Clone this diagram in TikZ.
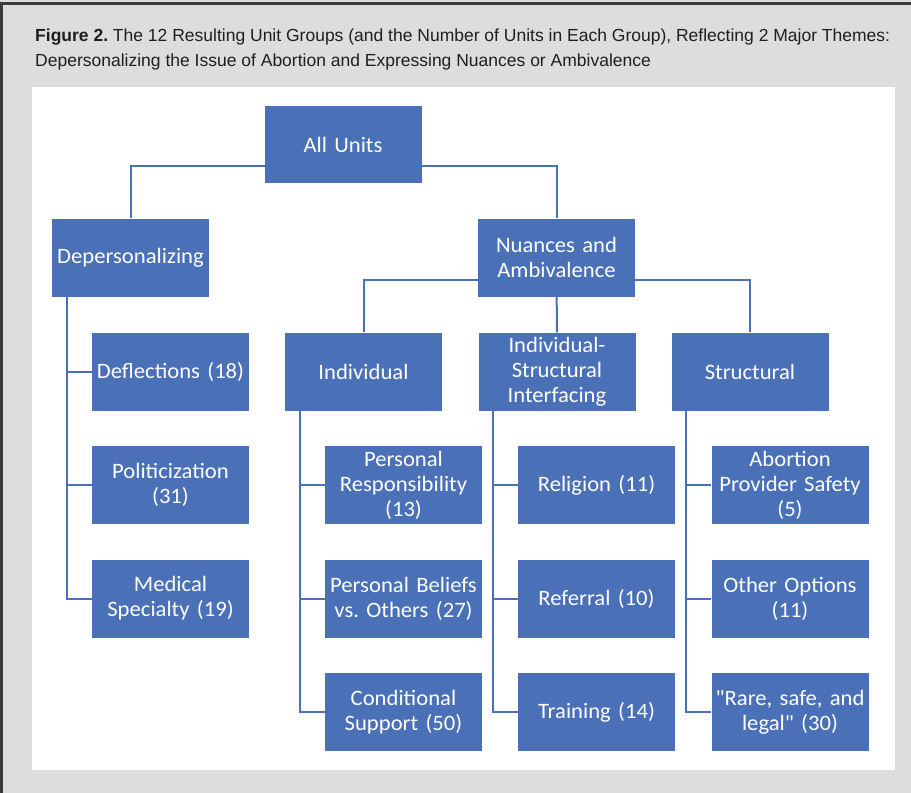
\documentclass[tikz,border=0pt]{standalone}
\usepackage{fontspec}
\setmainfont[FakeStretch=1.03]{Carlito}
\newfontfamily\qfont[FakeStretch=1.03,Ligatures=ResetAll]{Carlito}
\newcommand\sq{{\qfont\char34}}
\newfontfamily\titlefont{Liberation Sans}
\newfontfamily\titlefontb{Liberation Sans Bold}
\definecolor{boxblue}{HTML}{4A71B8}
\definecolor{linkblue}{HTML}{4A71B8}
\definecolor{bggray}{HTML}{DCDDDF}
\definecolor{frame}{HTML}{3A3A3A}
\frenchspacing
\begin{document}
\begin{tikzpicture}[x=1pt,y=-1pt,
  unitbox/.style={fill=boxblue, draw=none, minimum width=157pt, minimum height=78pt, inner sep=2pt,
    text=white, align=center, text width=153pt, font=\fontsize{22}{25}\selectfont},
  link/.style={draw=linkblue, line width=2pt},
  titletext/.style={anchor=base west, inner sep=0pt, text=black!88, font=\titlefont\fontsize{17.5}{22}\selectfont}]
\useasboundingbox (0,0) rectangle (911,793);
\fill[bggray] (0,0) rectangle (911,793);
\draw[frame, line width=3pt] (1.5,793) -- (1.5,3) -- (911,3);
\fill[white] (32,87) rectangle (895,770);
\node[titletext] (t1) at (35,41.5) {{\titlefontb Figure 2.} The 12 Resulting Unit Groups (and the Number of Units in Each Group), Reflecting 2 Major Themes:};
\node[titletext] (t2) at (35,66) {Depersonalizing the Issue of Abortion and Expressing Nuances or Ambivalence};

\node[unitbox, minimum width=156pt, minimum height=77pt] (all) at (343,144.5) {All Units};
\node[unitbox] (dep) at (130.5,257.5) {Depersonalizing};
\node[unitbox] (nua) at (556.5,257.5) {Nuances and\\Ambivalence};

\node[unitbox] (defl) at (170.5,371.5) {Deflections (18)};
\node[unitbox] (pol) at (170.5,485) {Politicization\\(31)};
\node[unitbox] (med) at (170.5,598.5) {Medical\\Specialty (19)};

\node[unitbox] (ind) at (363.5,371.5) {Individual};
\node[unitbox] (isi) at (557,371.5) {Individual-\\Structural\\Interfacing};
\node[unitbox] (str) at (750,371.5) {Structural};

\node[unitbox] (pr) at (403.5,485) {Personal\\Responsibility\\(13)};
\node[unitbox] (pb) at (403.5,598.5) {Personal Beliefs\\vs. Others (27)};
\node[unitbox] (cs) at (403.5,712) {Conditional\\Support (50)};

\node[unitbox] (rel) at (596.5,485) {Religion (11)};
\node[unitbox] (ref) at (596.5,598.5) {Referral (10)};
\node[unitbox] (tr) at (596.5,712) {Training (14)};

\node[unitbox] (aps) at (790,485) {Abortion\\Provider Safety\\(5)};
\node[unitbox] (oo) at (790,598.5) {Other Options\\(11)};
\node[unitbox] (rsl) at (790,712) {\sq Rare, safe, and\\legal\sq{} (30)};

\coordinate (j1) at ([yshift=17pt]all.south);
\draw[link] (all.south) -- (j1) -| (dep.north);
\draw[link] (j1) -| (nua.north);
\coordinate (j2) at ([yshift=17pt]nua.south);
\draw[link] (nua.south) -- (j2) -| (ind.north);
\draw[link] (j2) -| (str.north);
\draw[link] (j2) -- (isi.north);

\foreach \p/\a/\b/\c in {dep/defl/pol/med, ind/pr/pb/cs, isi/rel/ref/tr, str/aps/oo/rsl}{
  \draw[link] ([xshift=15pt]\p.south west) |- (\c.west);
  \draw[link] ([xshift=15pt]\p.south west |- \a.west) -- (\a.west);
  \draw[link] ([xshift=15pt]\p.south west |- \b.west) -- (\b.west);
}
\end{tikzpicture}
\end{document}
